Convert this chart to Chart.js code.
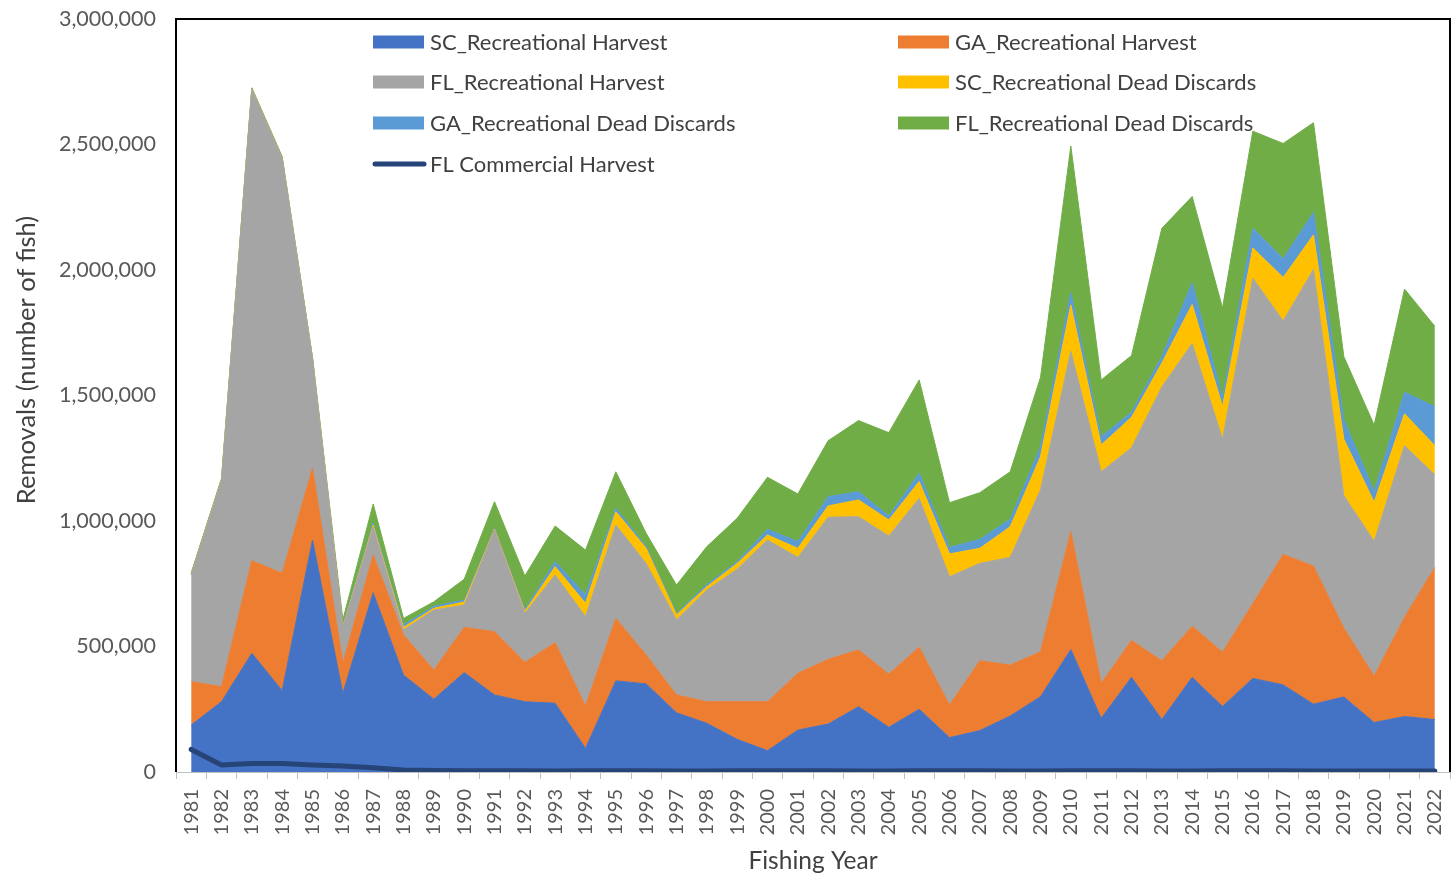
<!DOCTYPE html>
<html><head><meta charset="utf-8">
<script src="https://cdn.jsdelivr.net/npm/chart.js@4.4.1/dist/chart.umd.min.js"></script>
<style>html,body{margin:0;padding:0;background:#fff;}#wrap{width:1453px;height:876px;position:relative;}</style>
</head><body><div id="wrap"><canvas id="c" width="1453" height="876"></canvas></div>
<script>
const years = ['1981','1982','1983','1984','1985','1986','1987','1988','1989','1990','1991','1992','1993','1994','1995','1996','1997','1998','1999','2000','2001','2002','2003','2004','2005','2006','2007','2008','2009','2010','2011','2012','2013','2014','2015','2016','2017','2018','2019','2020','2021','2022'];

const scRecHarvest = [187000,280000,473000,324000,924000,313000,714000,386000,290000,396000,307000,280000,274000,94000,363000,351000,236000,194000,130000,85000,167000,191000,260000,178000,250000,137000,165000,223000,300000,488000,214000,377000,209000,377000,261000,373000,347000,270000,299000,197000,221000,209000];
const gaRecHarvest = [173000,60000,369000,468000,286000,120000,151000,160000,116000,180000,252000,157000,241000,169000,249000,115000,71000,86000,150000,195000,226000,258000,226000,212000,247000,130000,278000,203000,179000,469000,139000,147000,234000,204000,216000,298000,520000,550000,274000,185000,395000,606000];
const flRecHarvest = [424000,821000,1876000,1652000,435000,143000,110000,20000,239000,89000,405000,195000,270000,356000,372000,365000,299000,445000,528000,644000,462000,566000,531000,550000,593000,511000,388000,429000,645000,719000,843000,768000,1091000,1126000,849000,1296000,930000,1182000,528000,537000,684000,369000];
const scRecDeadDiscards = [2000,2000,2000,2000,2000,4000,8000,10000,7000,12000,4000,8000,33000,53000,53000,60000,20000,13000,23000,20000,36000,45000,67000,64000,67000,91000,60000,122000,132000,185000,107000,121000,95000,156000,130000,121000,173000,138000,225000,156000,127000,116000];
const gaRecDeadDiscards = [2000,2000,2000,2000,2000,6000,10000,10000,8000,8000,4000,8000,20000,33000,14000,7000,6000,9000,7000,23000,27000,37000,33000,16000,33000,26000,36000,30000,40000,49000,33000,20000,26000,87000,35000,78000,75000,90000,78000,43000,86000,156000];
const flRecDeadDiscards = [5000,5000,4000,4000,3000,20000,75000,26000,18000,83000,105000,133000,142000,179000,145000,53000,113000,151000,173000,207000,190000,223000,283000,332000,372000,178000,186000,189000,276000,584000,226000,226000,511000,343000,358000,387000,459000,357000,251000,264000,411000,320000];
const flCommercialHarvest = [90000,28000,34000,34000,28000,24000,17000,8000,6000,5000,5000,5000,4000,5000,5000,5000,4000,4000,5000,5000,5000,5000,4000,4000,5000,5000,5000,4000,4000,5000,5000,5000,4000,4000,5000,5000,5000,4000,4000,4000,4000,4000];

const yTicks = [0,500000,1000000,1500000,2000000,2500000,3000000];

const seriesNames = ['SC_Recreational Harvest','GA_Recreational Harvest','FL_Recreational Harvest','SC_Recreational Dead Discards','GA_Recreational Dead Discards','FL_Recreational Dead Discards','FL Commercial Harvest'];
const seriesColors = ['#4472C4','#ED7D31','#A5A5A5','#FFC000','#5B9BD5','#70AD47','#264478'];
const areaData = [scRecHarvest,gaRecHarvest,flRecHarvest,scRecDeadDiscards,gaRecDeadDiscards,flRecDeadDiscards];

const FONT = 'Lato, "Open Sans", sans-serif';
const TEXT = '#404040';

const datasets = areaData.map((d,i)=>({
  label: seriesNames[i], data: d,
  backgroundColor: seriesColors[i], borderColor: seriesColors[i], borderWidth: 1,
  pointRadius: 0, fill: i===0 ? 'origin' : '-1', stack: 'areas', tension: 0, order: 1
}));
datasets.push({
  label: seriesNames[6], data: flCommercialHarvest,
  borderColor: seriesColors[6], backgroundColor: seriesColors[6], borderWidth: 5,
  pointRadius: 0, fill: false, stack: 'comm', tension: 0, order: 0,
  borderCapStyle: 'round', borderJoinStyle: 'round'
});

const framePlugin = {
  id: 'frame',
  beforeDatasetsDraw(chart){
    const {ctx, chartArea:a} = chart;
    ctx.save();
    ctx.strokeStyle = '#bfbfbf'; ctx.lineWidth = 1;
    ctx.beginPath(); ctx.moveTo(a.left, a.bottom+0.5); ctx.lineTo(a.right, a.bottom+0.5); ctx.stroke();
    ctx.restore();
  },
  afterDraw(chart){
    const {ctx, chartArea:a} = chart;
    ctx.save();
    ctx.strokeStyle = '#000'; ctx.lineWidth = 2;
    ctx.beginPath();
    ctx.moveTo(a.left, a.bottom); ctx.lineTo(a.left, a.top); ctx.lineTo(a.right, a.top); ctx.lineTo(a.right, a.bottom);
    ctx.stroke();
    // y-axis title
    ctx.translate(27, 360); ctx.rotate(-Math.PI/2);
    ctx.fillStyle = TEXT; ctx.font = '25.5px ' + FONT;
    ctx.textAlign = 'center'; ctx.textBaseline = 'middle';
    ctx.fillText('Removals (number of fish)', 0, 0);
    ctx.restore();
  }
};

const legendLayout = [
  {i:0, x:373, y:42}, {i:1, x:898, y:42},
  {i:2, x:373, y:82}, {i:3, x:898, y:82},
  {i:4, x:373, y:123}, {i:5, x:898, y:123},
  {i:6, x:373, y:164}
];
const legendPlugin = {
  id: 'customLegend',
  afterDraw(chart){
    const ctx = chart.ctx;
    ctx.save();
    ctx.font = '22px ' + FONT; ctx.textBaseline = 'middle'; ctx.textAlign = 'left';
    legendLayout.forEach(it=>{
      const ds = chart.data.datasets[it.i];
      if (it.i === 6) {
        ctx.strokeStyle = ds.borderColor; ctx.lineWidth = 5; ctx.lineCap = 'round';
        ctx.beginPath(); ctx.moveTo(it.x+2, it.y); ctx.lineTo(it.x+51, it.y); ctx.stroke();
      } else {
        ctx.fillStyle = ds.backgroundColor;
        ctx.fillRect(it.x, it.y-6.5, 51, 13);
      }
      ctx.fillStyle = TEXT;
      ctx.fillText(ds.label, it.x+57, it.y+1);
    });
    ctx.restore();
  }
};

new Chart(document.getElementById('c').getContext('2d'), {
  type: 'line',
  data: { labels: years, datasets },
  options: {
    responsive: false, animation: false, devicePixelRatio: 1,
    layout: { padding: { left: 0, right: 3, top: 19, bottom: 0 } },
    plugins: { legend: { display: false }, tooltip: { enabled: false } },
    elements: { line: { tension: 0 } },
    scales: {
      x: {
        offset: true,
        grid: { display: true, drawOnChartArea: false, drawTicks: true, tickLength: 7, offset: true, color: '#bfbfbf' },
        border: { display: false },
        ticks: { autoSkip: false, maxRotation: 90, minRotation: 90, padding: 10, color: '#595959', font: { family: FONT, size: 20 } },
        title: { display: true, text: 'Fishing Year', color: TEXT, font: { family: FONT, size: 24.5, lineHeight: 1.2 }, padding: { top: 0, bottom: 0 } },
        afterFit(s){ s.height = 104; s.paddingLeft = 0; s.paddingRight = 0; }
      },
      y: {
        stacked: true, min: 0, max: 3000000,
        afterBuildTicks(s){ s.ticks = yTicks.map(v=>({value:v})); },
        ticks: { padding: 20, color: '#595959', font: { family: FONT, size: 21.5 }, callback: v => Number(v).toLocaleString('en-US') },
        grid: { display: false, drawTicks: false },
        border: { display: false },
        afterFit(s){ s.width = 176; s.paddingTop = 0; s.paddingBottom = 0; }
      }
    }
  },
  plugins: [framePlugin, legendPlugin]
});
</script></body></html>
